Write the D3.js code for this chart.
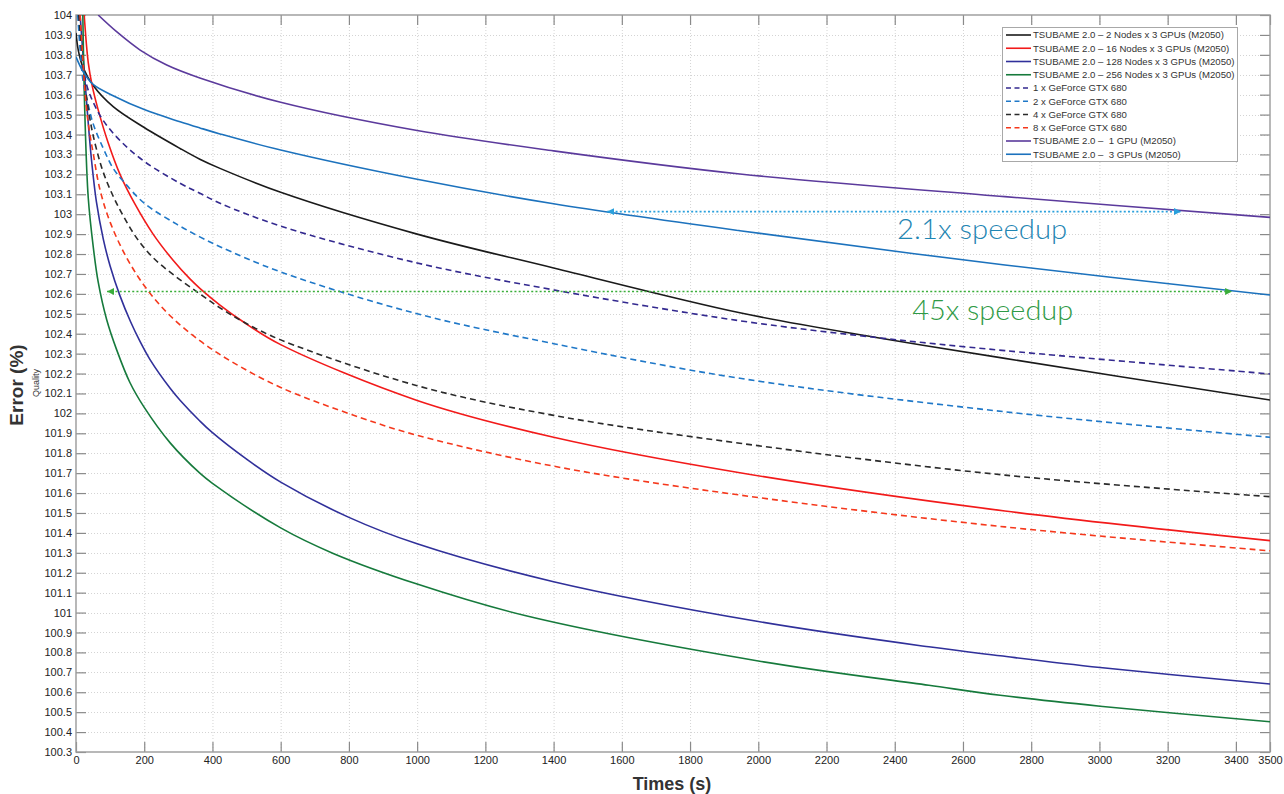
<!DOCTYPE html>
<html><head><meta charset="utf-8">
<script src="https://cdn.jsdelivr.net/npm/d3@7"></script>
<style>body{margin:0;background:#fff;} svg{display:block;}</style>
</head><body><svg id="chart" width="1284" height="794"></svg>
<script>
// ---------- DATA ----------
const xTickValues = [0,200,400,600,800,1000,1200,1400,1600,1800,2000,2200,2400,2600,2800,3000,3200,3400,3500];
const yTickValues = [100.3,100.4,100.5,100.6,100.7,100.8,100.9,101,101.1,101.2,101.3,101.4,101.5,101.6,101.7,101.8,101.9,102,
  102.1,102.2,102.3,102.4,102.5,102.6,102.7,102.8,102.9,103,103.1,103.2,103.3,103.4,103.5,103.6,103.7,103.8,103.9,104];

const seriesNames = [
  "TSUBAME 2.0 \u2013 2 Nodes x 3 GPUs (M2050)",
  "TSUBAME 2.0 \u2013 16 Nodes x 3 GPUs (M2050)",
  "TSUBAME 2.0 \u2013 128 Nodes x 3 GPUs (M2050)",
  "TSUBAME 2.0 \u2013 256 Nodes x 3 GPUs (M2050)",
  "1 x GeForce GTX 680",
  "2 x GeForce GTX 680",
  "4 x GeForce GTX 680",
  "8 x GeForce GTX 680",
  "TSUBAME 2.0 \u2013  1 GPU (M2050)",
  "TSUBAME 2.0 \u2013  3 GPUs (M2050)"
];

// [time (s), error (%)]
const tsubame2Nodes = [[0,103.91],[7,103.82],[21,103.735],[51,103.645],[109,103.54],[200,103.435],[305,103.33],[363,103.276],
  [422,103.23],[600,103.11],[1000,102.9],[1400,102.73],[1946,102.505],[2350,102.38],[2723,102.276],[3500,102.067]];
const tsubame16Nodes = [[24,104.0],[36,103.76],[48,103.64],[64,103.53],[94,103.36],[129,103.2],[173,103.05],[226,102.9],[284,102.77],
  [334,102.675],[363,102.628],[422,102.544],[490,102.46],[600,102.345],[1000,102.065],[1400,101.88],[1946,101.702],[2723,101.51],[3500,101.361]];
const tsubame128Nodes = [[12,104.0],[33,103.52],[45,103.28],[60,103.06],[80,102.875],[100,102.74],[129,102.59],[160,102.46],[188,102.36],
  [217,102.27],[276,102.126],[305,102.066],[363,101.962],[400,101.903],[500,101.77],[600,101.655],[800,101.478],[1000,101.345],
  [1400,101.155],[2000,100.955],[2500,100.828],[2709,100.783],[3002,100.724],[3500,100.641]];
const tsubame256Nodes = [[20,104.0],[26,103.5],[36,103.08],[51,102.83],[65,102.66],[90,102.47],[119,102.32],[158,102.155],[200,102.03],
  [276,101.852],[363,101.7],[400,101.649],[600,101.425],[754,101.297],[1000,101.143],[1316,100.985],[2000,100.757],[2500,100.635],
  [2709,100.585],[3002,100.53],[3500,100.452]];
const gtx680x1 = [[8,104.0],[10,103.95],[17,103.8],[31,103.65],[51,103.56],[80,103.47],[129,103.37],[200,103.265],[305,103.155],
  [363,103.105],[422,103.055],[600,102.94],[1000,102.755],[1400,102.62],[1946,102.465],[2350,102.38],[2723,102.315],[3500,102.198]];
const gtx680x2 = [[5,104.0],[12,103.83],[21,103.665],[36,103.548],[51,103.45],[80,103.33],[109,103.23],[139,103.165],[200,103.055],
  [295,102.95],[363,102.886],[422,102.837],[600,102.71],[1000,102.5],[1400,102.35],[1946,102.176],[2723,102.008],[3500,101.88]];
const gtx680x4 = [[8,104.0],[20,103.76],[30,103.6],[46,103.43],[61,103.32],[80,103.21],[109,103.09],[139,102.99],[178,102.88],
  [227,102.78],[290,102.69],[363,102.6],[422,102.53],[490,102.46],[600,102.369],[1000,102.139],[1400,101.99],[1946,101.85],
  [2723,101.69],[3500,101.582]];
const gtx680x8 = [[12,104.0],[20,103.78],[30,103.54],[40,103.41],[51,103.3],[70,103.125],[100,102.96],[149,102.78],[207,102.625],
  [276,102.49],[363,102.365],[451,102.265],[600,102.13],[832,101.98],[1000,101.89],[1400,101.735],[1946,101.59],[2723,101.43],[3500,101.31]];
const tsubame1Gpu = [[65,104.0],[119,103.916],[188,103.824],[266,103.749],[363,103.684],[600,103.562],[1000,103.42],[1400,103.318],
  [1946,103.202],[2723,103.088],[3500,102.984]];
const tsubame3Gpus = [[0,103.79],[21,103.715],[51,103.65],[109,103.595],[200,103.525],[305,103.464],[363,103.433],[422,103.403],[600,103.322],
  [1000,103.175],[1400,103.052],[1946,102.917],[2723,102.745],[3500,102.594]];

const seriesData = [tsubame2Nodes, tsubame16Nodes, tsubame128Nodes, tsubame256Nodes,
  gtx680x1, gtx680x2, gtx680x4, gtx680x8, tsubame1Gpu, tsubame3Gpus];

// speedup annotations: [from time, to time, error level]
const speedupLabels = ["2.1x speedup", "45x speedup"];
const speedupSpans = [[1557, 3239, 103.013], [91, 3389, 102.612]];
const speedupLabelAnchors = [[2407, 102.876], [2451, 102.47]];

// ---------- STYLES ----------
const seriesColors = ["#1a1a1a","#f21a1a","#30309a","#167a3c","#33298f","#1f78c8","#2a2a2a","#f5381c","#5b3a9c","#1c72bd"];
const seriesDashed = [false,false,false,false,true,true,true,true,false,false];
const annColors = ["#2aa0dc","#3aae3a"];
const annTextColors = ["#1f86b3","#2f9a45"];
const annTextWidths = [170, 161];

// ---------- LAYOUT ----------
const svg = d3.select("#chart");
const L = 76, R = 1270, T = 15, B = 752;
const W = R - L, H = B - T;
const x = d3.scaleLinear().domain([0, 3500]).range([L, R]);
const y = d3.scaleLinear().domain([100.3, 104]).range([B, T]);
const FONT = "'Liberation Sans', Arial, Helvetica, sans-serif";

// grid
const gridG = svg.append("g");
gridG.selectAll("line.gx").data(xTickValues.filter(v => v > 0 && v < 3500)).enter().append("line")
  .attr("x1", d => x(d)+0.5).attr("x2", d => x(d)+0.5).attr("y1", T).attr("y2", B)
  .attr("stroke", "#d4d4d4").attr("stroke-width", 1).attr("stroke-dasharray", "1,2");
gridG.selectAll("line.gy").data(yTickValues.filter(v => v > 100.3 && v < 104)).enter().append("line")
  .attr("y1", d => Math.round(y(d))+0.5).attr("y2", d => Math.round(y(d))+0.5).attr("x1", L).attr("x2", R)
  .attr("stroke", "#d4d4d4").attr("stroke-width", 1).attr("stroke-dasharray", "1,2");

// axes
const fmtY = d => String(+d.toFixed(1));
const axL = svg.append("g").attr("transform", `translate(${L},0)`)
  .call(d3.axisLeft(y).tickValues(yTickValues).tickSize(-10).tickSizeOuter(0).tickPadding(4).tickFormat(fmtY));
const axR = svg.append("g").attr("transform", `translate(${R},0)`)
  .call(d3.axisRight(y).tickValues(yTickValues).tickSize(-10).tickSizeOuter(0).tickFormat(""));
const axB = svg.append("g").attr("transform", `translate(0,${B})`)
  .call(d3.axisBottom(x).tickValues(xTickValues).tickSize(-10).tickSizeOuter(0).tickPadding(4).tickFormat(d => String(d)));
const axT = svg.append("g").attr("transform", `translate(0,${T})`)
  .call(d3.axisTop(x).tickValues(xTickValues).tickSize(-10).tickSizeOuter(0).tickFormat(""));
[axL, axR, axB, axT].forEach(g => {
  g.select(".domain").remove();
  g.selectAll(".tick line").attr("stroke", "#8a8a8a").attr("stroke-width", 1.2);
  g.selectAll(".tick text").attr("fill", "#222").style("font-family", FONT).style("font-size", "11px");
});
svg.append("rect").attr("x", L).attr("y", T).attr("width", W).attr("height", H)
  .attr("fill", "none").attr("stroke", "#9a9a9a").attr("stroke-width", 1.4);

// clip
svg.append("defs").append("clipPath").attr("id", "plotClip")
  .append("rect").attr("x", L).attr("y", T).attr("width", W).attr("height", H);

// lines
const lineGen = d3.line().x(d => x(d[0])).y(d => y(d[1])).curve(d3.curveCatmullRom.alpha(0.5));
const linesG = svg.append("g").attr("clip-path", "url(#plotClip)");
seriesData.forEach((data, i) => {
  linesG.append("path").datum(data).attr("d", lineGen)
    .attr("fill", "none").attr("stroke", seriesColors[i]).attr("stroke-width", 1.6)
    .attr("stroke-linejoin", "round")
    .attr("stroke-dasharray", seriesDashed[i] ? "6,4" : null);
});

// annotation arrows
const defs = svg.select("defs");
annColors.forEach((c, i) => {
  defs.append("marker").attr("id", "arrEnd" + i).attr("viewBox", "0 0 10 10").attr("refX", 10).attr("refY", 5)
    .attr("markerWidth", 7).attr("markerHeight", 7).attr("markerUnits", "userSpaceOnUse").attr("orient", "auto")
    .append("path").attr("d", "M0,0 L10,5 L0,10 z").attr("fill", c);
  defs.append("marker").attr("id", "arrStart" + i).attr("viewBox", "0 0 10 10").attr("refX", 0).attr("refY", 5)
    .attr("markerWidth", 7).attr("markerHeight", 7).attr("markerUnits", "userSpaceOnUse").attr("orient", "auto")
    .append("path").attr("d", "M10,0 L0,5 L10,10 z").attr("fill", c);
});
speedupSpans.forEach((s, i) => {
  svg.append("line").attr("x1", x(s[0])).attr("x2", x(s[1])).attr("y1", y(s[2])).attr("y2", y(s[2]))
    .attr("stroke", annColors[i]).attr("stroke-width", 1.6).attr("stroke-dasharray", "2,2.2")
    .attr("marker-start", `url(#arrStart${i})`).attr("marker-end", `url(#arrEnd${i})`);
  svg.append("text").attr("x", x(speedupLabelAnchors[i][0])).attr("y", y(speedupLabelAnchors[i][1]))
    .text(speedupLabels[i]).attr("fill", annTextColors[i])
    .attr("textLength", annTextWidths[i]).attr("lengthAdjust", "spacingAndGlyphs")
    .style("font-family", "Lato, 'Open Sans', sans-serif").style("font-weight", 300).style("font-size", "28px");
});

// legend
const lg = svg.append("g");
lg.append("rect").attr("x", 1002.5).attr("y", 27.5).attr("width", 235).attr("height", 134)
  .attr("fill", "#fff").attr("stroke", "#a8a8a8").attr("stroke-width", 1);
seriesNames.forEach((name, i) => {
  const yy = 35 + i * 13.25;
  lg.append("line").attr("x1", 1006).attr("x2", 1031).attr("y1", yy).attr("y2", yy)
    .attr("stroke", seriesColors[i]).attr("stroke-width", 1.6)
    .attr("stroke-dasharray", seriesDashed[i] ? "5,3.5" : null);
  lg.append("text").attr("x", 1033).attr("y", yy + 3.4).text(name)
    .attr("fill", "#333").attr("xml:space", "preserve").style("white-space", "pre")
    .style("font-family", FONT).style("font-size", "9.6px");
});

// axis titles
svg.append("text").attr("x", 672).attr("y", 790).attr("text-anchor", "middle").text("Times (s)")
  .attr("fill", "#333").style("font-family", FONT).style("font-weight", "bold").style("font-size", "18px");
svg.append("text").attr("transform", "translate(23,385) rotate(-90)").attr("text-anchor", "middle").text("Error (%)")
  .attr("fill", "#333").style("font-family", FONT).style("font-weight", "bold").style("font-size", "19px");
svg.append("text").attr("transform", "translate(39,383) rotate(-90)").attr("text-anchor", "middle").text("Quality")
  .attr("fill", "#333").style("font-family", FONT).style("font-size", "9px");
</script></body></html>
